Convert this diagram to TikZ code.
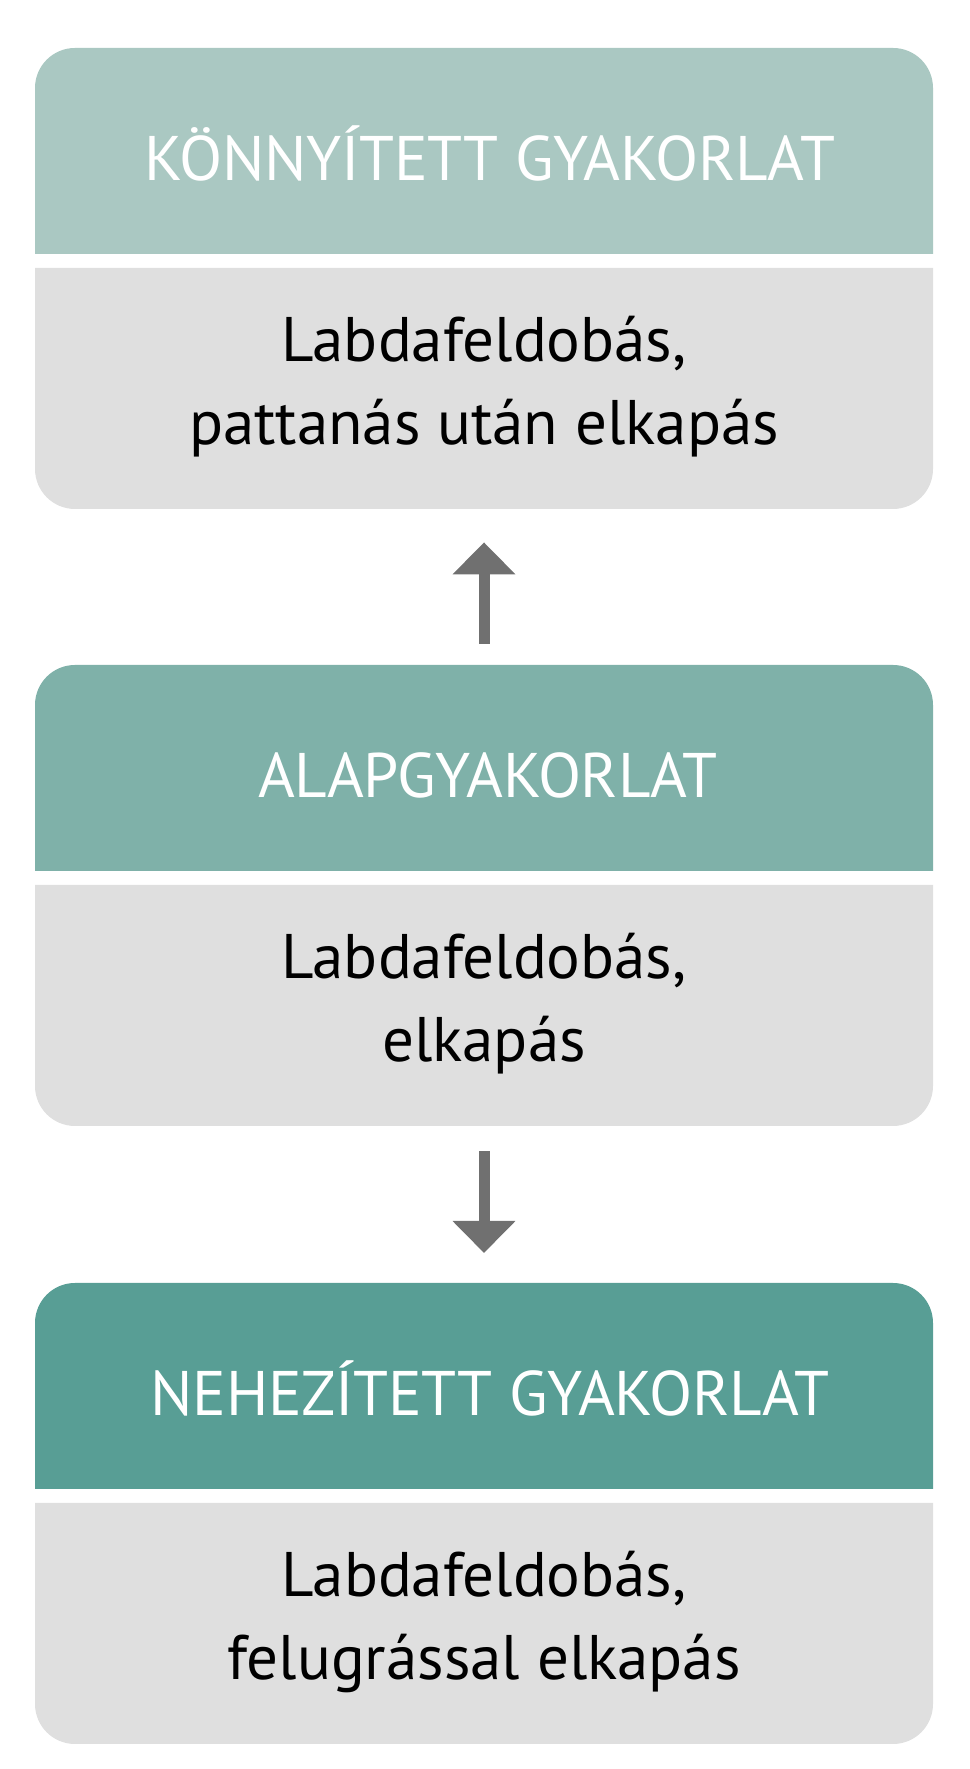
\documentclass[tikz,border=0pt]{standalone}
\usepackage{fontspec}
\setmainfont{PT Sans}
\usetikzlibrary{arrows.meta}
\definecolor{hA}{HTML}{AAC8C2}
\definecolor{hB}{HTML}{7FB1A9}
\definecolor{hC}{HTML}{589E95}
\definecolor{bodyc}{HTML}{DFDFDF}
\definecolor{arrc}{HTML}{707070}
\newcommand{\cardshape}[2]{% #1 top Y, #2 colour
  \fill[#2] (35,#1-206) -- (35,#1-40) arc[start angle=180,end angle=90,radius=40] -- (893,#1) arc[start angle=90,end angle=0,radius=40] -- (933,#1-206) -- cycle;
  \fill[bodyc] (35,#1-220) -- (35,#1-421) arc[start angle=180,end angle=270,radius=40] -- (893,#1-461) arc[start angle=270,end angle=360,radius=40] -- (933,#1-220) -- cycle;
}
\tikzset{
  headtxt/.style={text=white, anchor=base, inner sep=0pt, font=\fontsize{63bp}{83bp}\selectfont\addfontfeatures{LetterSpace=-0.5}},
  bodytxt/.style={text=black, anchor=base, inner sep=0pt, align=center, font=\fontsize{63bp}{83bp}\selectfont},
  cardbox/.style={minimum width=898bp, minimum height=461bp, inner sep=0pt, anchor=north},
  arr/.style={arrc, line width=11bp, -{Triangle[width=61bp,length=32bp]}}
}
\begin{document}
\begin{tikzpicture}[x=1bp,y=1bp]
\useasboundingbox (0,0) rectangle (969,1769);
\cardshape{1721}{hA}
\cardshape{1104}{hB}
\cardshape{486}{hC}
\node[cardbox] (card1) at (484,1721) {};
\node[cardbox] (card2) at (484,1104) {};
\node[cardbox] (card3) at (484,486) {};
\node[headtxt] (h1) at (490,1721-133) {KÖNNYÍTETT GYAKORLAT};
\node[headtxt] (h2) at (488,1104-133) {ALAPGYAKORLAT};
\node[headtxt] (h3) at (490,486-133) {NEHEZÍTETT GYAKORLAT};
\node[bodytxt] (b1) at (484,1721-397) {Labdafeldobás,\\pattanás után elkapás};
\node[bodytxt] (b2) at (484,1104-397) {Labdafeldobás,\\elkapás};
\node[bodytxt] (b3) at (484,486-397) {Labdafeldobás,\\felugrással elkapás};
\draw[arr] ([yshift=21bp]card2.north) -- ([yshift=-33bp]card1.south);
\draw[arr] ([yshift=-25bp]card2.south) -- ([yshift=30bp]card3.north);
\end{tikzpicture}
\end{document}
